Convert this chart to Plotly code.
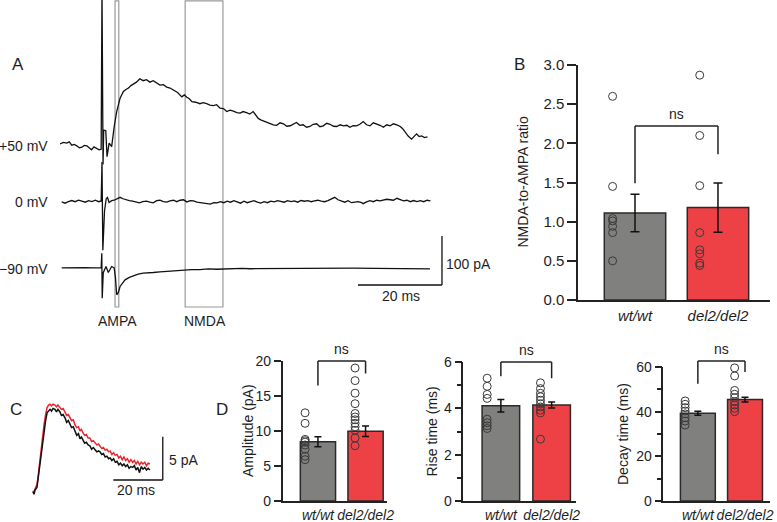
import plotly.graph_objects as go

W, H = 777, 522

# ==========================================
# DATA
# ==========================================
# Panel A: evoked EPSCs, (time ms, current pA) pairs, baseline ~0
trace_p50 = [(0, 2), (0.8, 5), (1.6, 3.5), (2.2, 6), (2.8, -0.6), (3.4, 1), (4.0, -2), (4.6, -6),
             (5.2, -4.7), (5.8, -1), (6.4, -2), (7.0, -7), (7.5, -10), (8.1, -4), (8.7, -6.7),
             (9.3, -10), (9.8, -8.8), (10.0, 320), (10.25, -40), (10.4, 30), (10.9, 29), (11.2, -24),
             (11.7, 3.5), (12.3, -3.5), (12.9, 37), (13.5, 68), (14.3, 95), (15.1, 109), (15.7, 113),
             (16.3, 116), (16.9, 121), (17.5, 124), (18.2, 128), (19.0, 135), (19.8, 131), (20.6, 133),
             (21.4, 128), (22.2, 131), (23.0, 126), (23.8, 122), (24.6, 123), (25.4, 118), (26.2, 116),
             (27.0, 112), (28.0, 107), (29.0, 98), (29.6, 102), (30.2, 97), (30.8, 94), (31.4, 88),
             (32.3, 87), (33.3, 84), (34.1, 86), (34.9, 84), (35.7, 81), (36.5, 80), (37.3, 82),
             (38.1, 75), (38.9, 74), (39.7, 68), (40.5, 71), (41.3, 69), (42.1, 66), (42.9, 65),
             (43.6, 68), (44.4, 66), (45.2, 63), (46.0, 68), (46.6, 60), (47.2, 54), (47.8, 51),
             (48.4, 49), (49.2, 46), (50.0, 44), (50.8, 41), (51.6, 40), (52.4, 45), (53.2, 43),
             (54.0, 38), (54.8, 39), (55.5, 42), (56.3, 45.6), (57.1, 40), (57.9, 41), (58.7, 36),
             (59.5, 37.5), (60.3, 42), (61.1, 43), (61.9, 37), (62.7, 38.8), (63.5, 44), (64.3, 42),
             (65.1, 38), (65.9, 37.5), (66.7, 41), (67.5, 38.8), (68.3, 40), (69.0, 36), (69.8, 39),
             (70.6, 38.8), (71.4, 42), (72.2, 47.6), (73.0, 41), (73.8, 38.8), (74.6, 45), (75.4, 43),
             (76.2, 40), (77.0, 36), (77.8, 41), (78.6, 38.8), (79.4, 43), (80.2, 40.8), (81.0, 37.5),
             (81.6, 33), (82.1, 27), (82.9, 18), (83.7, 11.6), (84.3, 17), (84.9, 22.4), (85.5, 17),
             (86.1, 18.4), (86.8, 15), (87.5, 16.3)]
trace_0 = [(0.4, -1.4), (1.2, -4), (2.0, -1), (2.8, 1.4), (3.6, -1), (4.4, 2), (5.2, 0), (6.0, -2),
           (6.8, 1), (7.6, -0.7), (8.4, 2), (9.2, -1), (9.8, 0.5), (10.0, 80), (10.2, -100), (10.6, -20),
           (11.0, 5), (11.3, 7.5), (11.7, -2.7), (12.3, 1), (12.9, 2), (13.6, 5), (14.3, 8), (15.0, 5),
           (15.7, 2.7), (16.5, 1), (17.3, 0), (18.1, -2), (18.9, -3.4), (19.7, -1), (20.6, 0), (21.4, -2),
           (22.2, -3.4), (23.0, 1), (23.8, 2), (24.6, -1), (25.4, -2), (26.2, 0.7), (27.0, 2), (27.8, -1),
           (28.6, 2), (29.4, 3), (30.2, -1.4), (31.0, 1), (31.8, 0.7), (32.6, -2), (33.4, -2.7), (34.2, -4),
           (35.0, -4.8), (35.8, -6), (36.6, -3), (37.4, -3.4), (38.2, -1), (39.0, -3), (39.8, 0), (40.6, -2),
           (41.4, 1), (42.2, -1.4), (43.0, -4), (43.8, 0), (44.6, -3), (45.4, -1), (46.2, 1), (47.0, -2),
           (47.8, -4), (48.6, -1), (49.4, -3), (50.2, 0), (51.0, -1.4), (51.8, 1), (52.6, -1), (53.4, -2),
           (54.2, 1), (55.0, -0.7), (55.8, 0.7), (56.6, -2), (57.4, 1.4), (58.2, 0), (59.0, 1), (59.8, -1),
           (60.6, 0.7), (61.4, 2), (62.2, 0), (63.0, -1), (63.8, 1.4), (64.6, 4), (65.4, 8), (66.2, 3),
           (67.0, 1), (67.8, -2), (68.6, 1), (69.4, -3), (70.2, -2), (71.0, -1), (71.8, -3), (72.2, -5),
           (73.0, -1.4), (73.8, 1), (74.6, -1), (75.4, 2), (76.2, 0.7), (77.0, 3), (77.8, 4), (78.6, 3),
           (79.4, 2), (80.2, 6), (81.0, 4), (81.8, 0.7), (82.6, 2), (83.4, -1), (84.2, 1.4), (85.0, -0.7),
           (85.8, 1), (86.6, -1), (87.4, 2), (88.2, 0.7)]
trace_m90 = [(0.4, 0), (2.0, 0.5), (4.0, -0.3), (6.0, 0.4), (8.0, -0.2), (9.8, 0), (9.95, 30),
             (10.05, -62), (10.3, -10), (10.95, 2.7), (11.5, -9.5), (12.3, 2.7), (12.9, 0), (13.2, -20),
             (13.5, -55), (13.9, -50), (14.3, -38), (14.9, -30), (15.5, -24.5), (16.5, -19.5),
             (17.5, -16.3), (18.6, -13), (19.8, -10.9), (21.0, -10.5), (22.2, -9.5), (23.8, -8),
             (25.4, -6.8), (27.4, -5.5), (29.4, -4), (31.3, -3.8), (33.3, -3.4), (35.3, -2.2),
             (37.3, -2.8), (39.3, -1.8), (41.3, -2), (43.3, -1.2), (45.3, -1.8), (49.2, -1.4),
             (53.2, -1), (57.1, -0.7), (61.1, -0.8), (65.1, -0.7), (70.0, -0.5), (75.0, -1),
             (80.0, -1.2), (85.0, -1.8), (88.1, -2)]
hold_labels = ['+50 mV', '0 mV', '\u221290 mV']
ampa_window = [13.1, 14.0]     # ms
nmda_window = [29.8, 38.8]     # ms
scale_a = [20, 100]            # ms, pA

# Panel C: averaged mEPSCs (time ms, pA)
mepsc_wt = [(0, 0), (0.4, -0.3), (0.8, 0.2), (1.2, 0.4), (1.6, 0.5), (2.0, 1.35), (2.6, 2.8), (3.2, 4.2),
            (3.8, 5.6), (4.5, 7.1), (5.1, 8.2), (5.7, 9.1), (6.3, 9.3), (6.9, 9.5), (7.5, 9.3), (8.1, 9.6),
            (8.9, 9.5), (9.5, 9.2), (10.1, 9.5), (10.9, 9.2), (11.5, 8.8), (12.2, 8.9), (13.0, 8.5),
            (13.6, 8.0), (14.3, 8.2), (15.0, 7.7), (15.6, 7.4), (16.3, 7.5), (17.0, 6.9), (17.7, 6.5),
            (18.4, 6.7), (19.0, 6.1), (19.6, 6.3), (20.2, 6.0), (20.9, 5.6), (21.6, 5.7), (22.3, 5.4),
            (23.0, 5.3), (23.7, 4.9), (24.4, 5.1), (25.1, 4.8), (25.8, 4.6), (26.5, 4.7), (27.1, 4.6),
            (27.8, 4.3), (28.5, 4.4), (29.2, 4.0), (29.9, 4.1), (30.6, 3.8), (31.2, 3.9), (31.9, 3.6),
            (32.6, 3.8), (33.3, 3.4), (34.0, 3.5), (34.7, 3.1), (35.4, 3.3), (36.1, 3.0), (36.8, 3.2),
            (37.5, 2.9), (38.2, 3.1), (38.9, 2.7), (39.6, 2.9), (40.3, 2.8), (41.0, 3.0), (41.7, 2.5),
            (42.4, 2.8), (43.1, 2.2), (43.8, 2.9), (44.5, 2.6), (45.2, 2.8), (45.9, 2.5), (46.6, 2.7),
            (47.3, 2.5)]
mepsc_del2 = [(0, 0.1), (0.4, -0.2), (0.8, 0.3), (1.2, 0.5), (1.6, 0.8), (2.0, 1.6), (2.6, 3.2), (3.2, 4.8),
              (3.8, 6.3), (4.5, 7.8), (5.1, 8.9), (5.7, 9.7), (6.3, 10.0), (6.9, 10.1), (7.5, 9.9),
              (8.1, 10.1), (8.9, 10.0), (9.5, 9.8), (10.1, 10.0), (10.9, 9.7), (11.5, 9.5), (12.2, 9.6),
              (13.0, 9.1), (13.6, 8.8), (14.3, 8.9), (15.0, 8.4), (15.6, 8.2), (16.3, 8.3), (17.0, 7.7),
              (17.7, 7.4), (18.4, 7.5), (19.0, 7.0), (19.6, 7.2), (20.2, 6.8), (20.9, 6.5), (21.6, 6.6),
              (22.3, 6.2), (23.0, 6.2), (23.7, 5.8), (24.4, 5.9), (25.1, 5.6), (25.8, 5.4), (26.5, 5.5),
              (27.1, 5.3), (27.8, 5.0), (28.5, 5.1), (29.2, 4.8), (29.9, 4.9), (30.6, 4.6), (31.2, 4.7),
              (31.9, 4.3), (32.6, 4.5), (33.3, 4.2), (34.0, 4.3), (34.7, 3.9), (35.4, 4.1), (36.1, 3.7),
              (36.8, 4.0), (37.5, 3.6), (38.2, 3.8), (38.9, 3.4), (39.6, 3.7), (40.3, 3.4), (41.0, 3.6),
              (41.7, 3.2), (42.4, 3.5), (43.1, 3.1), (43.8, 3.4), (44.5, 3.2), (45.2, 3.4), (45.9, 3.0),
              (46.6, 3.3), (47.3, 3.2)]
scale_c = [20, 5]              # ms, pA

# Panels B and D: group summaries
groups = ['wt/wt', 'del2/del2']

ratio_mean = [1.11, 1.18]
ratio_sem = [0.24, 0.315]
ratio_wt = [2.60, 1.45, 1.04, 1.01, 0.94, 0.86, 0.50]
ratio_del2 = [2.87, 2.10, 1.46, 0.86, 0.64, 0.59, 0.47, 0.44]
ratio_bracket = [1.49, 2.22, 1.86]     # left leg end, top, right leg end

amp_mean = [8.47, 9.95]
amp_sem = [0.72, 0.75]
amp_wt = [12.6, 11.1, 8.8, 8.6, 8.4, 8.0, 7.4, 6.4, 5.9]
amp_del2 = [19.0, 17.2, 15.4, 13.9, 12.5, 12.0, 11.6, 11.1, 10.6, 10.1, 9.0, 7.9]
amp_bracket = [16.5, 20.0, 18.2]

rise_mean = [4.11, 4.14]
rise_sem = [0.27, 0.13]
rise_wt = [5.3, 4.95, 4.6, 4.43, 3.53, 3.38, 3.25, 3.13]
rise_del2 = [5.1, 4.85, 4.65, 4.5, 4.35, 4.2, 4.06, 3.92, 3.8, 2.67]
rise_bracket = [5.38, 6.0, 5.3]

decay_mean = [39.3, 45.4]
decay_sem = [0.9, 1.1]
decay_wt = [44.8, 43.3, 41.8, 40.3, 39.0, 37.3, 35.8, 34.0]
decay_del2 = [59.6, 56.0, 49.5, 47.8, 46.3, 44.5, 43.0, 41.5, 40.0]
decay_bracket = [52.5, 62.7, 57.8]

# ==========================================
# STYLE
# ==========================================
FONT = 'Liberation Sans, Arial, Helvetica, sans-serif'
INK = '#1e1e1e'
BAR_COLORS = ['#80817f', '#ee4146']
PT_OFF = [-0.27, -0.22]


def px(x):
    return x / W


def py(y):
    return 1 - y / H


fig = go.Figure()
layout = {}
annots = []
shapes = []


def label(text, x, y, size=14, xanchor='center', **kw):
    annots.append(dict(text=text, x=px(x), y=py(y), xref='paper', yref='paper', showarrow=False,
                       xanchor=xanchor, yanchor='middle', font=dict(size=size, color=INK, family=FONT), **kw))


# ==========================================
# PANEL A
# ==========================================
offsets_a = [337, 222, 86]
for tr, off in zip([trace_p50, trace_0, trace_m90], offsets_a):
    t, i = zip(*tr)
    fig.add_trace(go.Scatter(x=list(t), y=[v + off for v in i], mode='lines',
                             line=dict(color='#111', width=1.3), xaxis='x', yaxis='y'))

layout['xaxis'] = dict(domain=[px(60), px(450)], range=[0, 92.86], visible=False, anchor='y',
                       automargin=False)
layout['yaxis'] = dict(domain=[py(310), 1], range=[0, 632.65], visible=False, anchor='x',
                       automargin=False)

for win in [ampa_window, nmda_window]:
    shapes.append(dict(type='rect', xref='x', yref='y domain', x0=win[0], x1=win[1], y0=0.0097, y1=0.997,
                       line=dict(color='#9a9a9a', width=1.2), layer='below'))

sb_x1, sb_y0 = 90.95, 51
shapes.append(dict(type='line', xref='x', yref='y', x0=sb_x1 - scale_a[0], x1=sb_x1, y0=sb_y0, y1=sb_y0,
                   line=dict(color='#111', width=1.3)))
shapes.append(dict(type='line', xref='x', yref='y', x0=sb_x1, x1=sb_x1, y0=sb_y0, y1=sb_y0 + scale_a[1],
                   line=dict(color='#111', width=1.3)))

label('A', 18, 64, size=17)
for txt, y in zip(hold_labels, [146, 202, 269]):
    label(txt, 50, y, xanchor='right')
label('AMPA', 117, 321)
label('NMDA', 205, 321)
label('%d pA' % scale_a[1], 444, 264, xanchor='left')
label('%d ms' % scale_a[0], 401, 296)

# ==========================================
# PANEL C
# ==========================================
for tr, col in [(mepsc_del2, '#e8262d'), (mepsc_wt, '#111')]:
    t, i = zip(*tr)
    fig.add_trace(go.Scatter(x=list(t), y=list(i), mode='lines', line=dict(color=col, width=1.5),
                             xaxis='x3', yaxis='y3'))
layout['xaxis3'] = dict(domain=[px(30), px(165)], range=[-1.21, 53.4], visible=False, anchor='y3',
                        automargin=False)
layout['yaxis3'] = dict(domain=[py(495), py(400)], range=[-0.38, 10.58], visible=False, anchor='x3',
                        automargin=False)
sc_x1, sc_y0 = 52.5, 1.35
shapes.append(dict(type='line', xref='x3', yref='y3', x0=sc_x1 - scale_c[0], x1=sc_x1, y0=sc_y0, y1=sc_y0,
                   line=dict(color='#111', width=1.3)))
shapes.append(dict(type='line', xref='x3', yref='y3', x0=sc_x1, x1=sc_x1, y0=sc_y0, y1=sc_y0 + scale_c[1],
                   line=dict(color='#111', width=1.3)))
label('C', 16, 409, size=17)
label('%d pA' % scale_c[1], 167, 460, xanchor='left')
label('%d ms' % scale_c[0], 136, 490)


# ==========================================
# PANELS B, D
# ==========================================
def bar_panel(n, means, sems, pts, bracket, yrange, dtick, minor, xrange_, xdom, ydom,
              title, title_x, tickfmt, ticklen, cap, standoff, fsize):
    xa, ya = 'x%d' % n, 'y%d' % n
    fig.add_trace(go.Bar(x=[0, 1], y=means, width=0.74,
                         marker=dict(color=BAR_COLORS, line=dict(color='#2a2a2a', width=1.5)),
                         error_y=dict(type='data', array=sems, color='#111', thickness=1.5, width=cap),
                         xaxis=xa, yaxis=ya))
    for gi, vals in enumerate(pts):
        fig.add_trace(go.Scatter(x=[gi + PT_OFF[gi]] * len(vals), y=vals, mode='markers', cliponaxis=False,
                                 marker=dict(symbol='circle-open', size=8, color='#3a3a3a', line=dict(width=1)),
                                 xaxis=xa, yaxis=ya))
    layout['xaxis%d' % n] = dict(domain=xdom, range=xrange_, anchor=ya, tickvals=[0, 1],
                                 ticktext=['<i>%s</i>' % g for g in groups], ticks='', showline=True,
                                 linecolor='#222', linewidth=1.5, showgrid=False, zeroline=False,
                                 tickangle=0, automargin=False, ticklabelstandoff=standoff,
                                 tickfont=dict(size=fsize, color=INK, family=FONT))
    yax = dict(domain=ydom, range=yrange, anchor=xa, tick0=0, dtick=dtick, ticks='outside', ticklen=ticklen,
               tickwidth=1.5, tickcolor='#222', showline=True, linecolor='#222', linewidth=1.5,
               showgrid=False, zeroline=False, tickformat=tickfmt, automargin=False,
               tickfont=dict(size=fsize, color=INK, family=FONT))
    if minor:
        yax['minor'] = dict(dtick=minor, tick0=0, ticks='outside', ticklen=5, tickwidth=1.5,
                            tickcolor='#222', showgrid=False)
    layout['yaxis%d' % n] = yax
    top = yrange[1]
    bl, bt, br = bracket
    yd = ya + ' domain'
    for x0, x1, y0, y1 in [(0, 1, bt, bt), (0, 0, bl, bt), (1, 1, br, bt)]:
        shapes.append(dict(type='line', xref=xa, yref=yd, x0=x0, x1=x1, y0=y0 / top, y1=y1 / top,
                           line=dict(color='#222', width=1.5)))
    annots.append(dict(text='ns', xref=xa, yref=yd, x=0.5, y=bt / top, yanchor='bottom', yshift=2,
                       showarrow=False, font=dict(size=14, color=INK, family=FONT)))
    annots.append(dict(text=title, xref='paper', yref='paper', x=px(title_x), y=sum(ydom) / 2,
                       textangle=-90, showarrow=False, xanchor='center', yanchor='middle',
                       font=dict(size=14, color=INK, family=FONT)))


bar_panel(2, ratio_mean, ratio_sem, [ratio_wt, ratio_del2], ratio_bracket, [0, 3], 0.5, None,
          [-0.687, 1.627], [px(578), px(770)], [py(300), py(65)], 'NMDA-to-AMPA ratio', 523, '.1f', 9, 4.5,
          1, 15)
bar_panel(4, amp_mean, amp_sem, [amp_wt, amp_del2], amp_bracket, [0, 20], 5, None,
          [-0.74, 1.45], [px(282.7), px(387)], [py(501), py(361)], 'Amplitude (pA)', 248, 'd', 7, 3.5, 0, 14)
bar_panel(5, rise_mean, rise_sem, [rise_wt, rise_del2], rise_bracket, [0, 6], 2, 1,
          [-0.74, 1.48], [px(463.3), px(576)], [py(501), py(362)], 'Rise time (ms)', 431, 'd', 7, 3.5, 0, 14)
bar_panel(6, decay_mean, decay_sem, [decay_wt, decay_del2], decay_bracket, [0, 60], 20, 10,
          [-0.733, 1.53], [px(663.3), px(770)], [py(501), py(367)], 'Decay time (ms)', 623, 'd', 7, 3.5, 0, 14)

label('B', 519, 65, size=17)
label('D', 222, 409, size=17)

fig.update_layout(
    width=W, height=H,
    margin=dict(l=0, r=0, t=0, b=0, autoexpand=False),
    paper_bgcolor='white', plot_bgcolor='rgba(0,0,0,0)',
    showlegend=False, hovermode=False,
    font=dict(family=FONT, size=14, color=INK),
    annotations=annots, shapes=shapes,
    **layout
)

# the page body has a default margin; drop it so the figure sits at the window's corner
fig.write_html("out.html", config={'displayModeBar': False},
               post_script="document.body.style.margin='0';")
